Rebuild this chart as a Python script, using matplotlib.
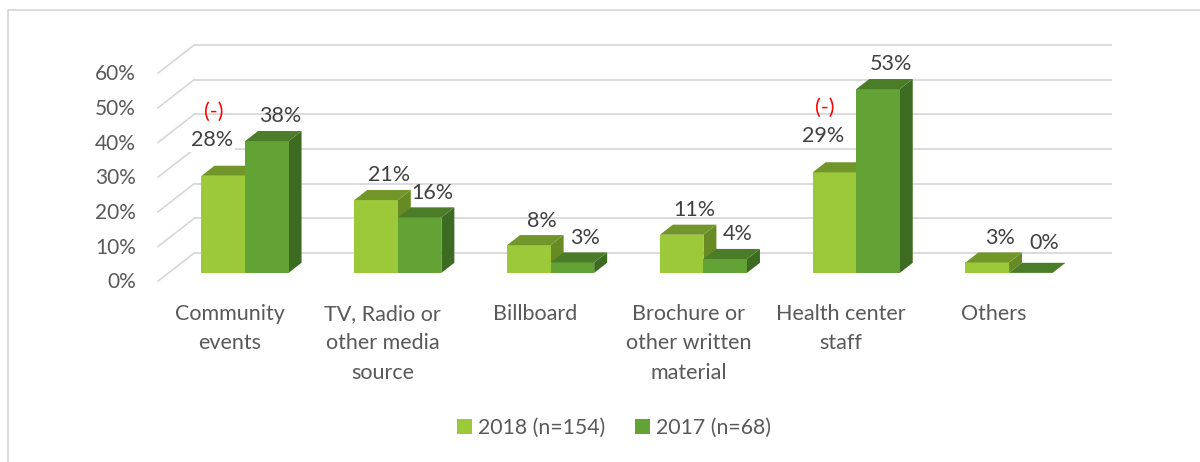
import matplotlib
matplotlib.use("Agg")
import matplotlib.pyplot as plt
from matplotlib.patches import Polygon, Rectangle

plt.rcParams["font.family"] = ["Lato", "DejaVu Sans"]

# data
categories = ["Community\nevents", "TV, Radio or\nother media\nsource", "Billboard",
              "Brochure or\nother written\nmaterial", "Health center\nstaff", "Others"]
series_names = ["2018 (n=154)", "2017 (n=68)"]
vals_2018 = [28, 21, 8, 11, 29, 3]
vals_2017 = [38, 16, 3, 4, 53, 0]
yticks = [0, 10, 20, 30, 40, 50, 60]
flagged = [0, 4]  # 2018 labels marked "(-)"

# colours: front, top, side
col_2018 = ("#9BC93A", "#73962A", "#678A24")
col_2017 = ("#63A235", "#4B7D28", "#3E6B22")
grid_col = "#D9D9D9"
txt_col = "#595959"

# pseudo 3d geometry (data units)
DX = 36 / 152.8      # depth shift in x (categories)
DY = 28 / 3.467      # depth shift in y (percent)
D0, D1 = 0.29, 0.65  # bar depth range
W = 0.285            # bar width


def P(x, y, d):
    return (x + d * DX, y + d * DY)


fig = plt.figure(figsize=(12, 4.62), dpi=100)
ax = fig.add_axes([0, 0, 1, 1])
ax.set_xlim(-234.6 / 152.8, (1200 - 234.6) / 152.8)
ax.set_ylim(-(462 - 281) / 3.467, 281 / 3.467)
ax.axis("off")

# outer frame
ax.add_patch(Rectangle((8 / 1200, -0.1), 1.2, 1.1 - 10 / 462, transform=ax.transAxes,
                       fill=False, edgecolor=grid_col, lw=1.3, clip_on=False))

# walls
x_left, x_right = -0.5, len(categories) - 0.5
for v in yticks:
    ax.plot(*zip(P(x_left, v, 1), P(x_right, v, 1)), color=grid_col, lw=1.3, zorder=1)
    ax.plot(*zip(P(x_left, v, 0), P(x_left, v, 1)), color=grid_col, lw=1.3, zorder=1)
    ax.text(-0.645, v - 0.4, f"{v}%", ha="right", va="center", fontsize=15, color=txt_col)


def bar3d(xl, h, cols):
    xr = xl + W
    front = [P(xl, 0, D0), P(xr, 0, D0), P(xr, h, D0), P(xl, h, D0)]
    top = [P(xl, h, D0), P(xr, h, D0), P(xr, h, D1), P(xl, h, D1)]
    side = [P(xr, 0, D0), P(xr, 0, D1), P(xr, h, D1), P(xr, h, D0)]
    for poly, c in ((side, cols[2]), (front, cols[0]), (top, cols[1])):
        ax.add_patch(Polygon(poly, closed=True, facecolor=c, edgecolor="none", zorder=2))
    return P(xl + W / 2, h, D1)


for i, cat in enumerate(categories):
    cx, cy = bar3d(i - W, vals_2018[i], col_2018)
    if i in flagged:
        lx, ly = cx - 0.16, cy + 7.5
        ax.text(lx, ly, f"{vals_2018[i]}%", ha="center", va="center", fontsize=15.5,
                color="#404040", zorder=3,
                bbox=dict(facecolor="white", edgecolor="none", pad=1.5))
        ax.text(lx + 0.01, ly + 8.1, "(-)", ha="center", va="center", fontsize=15.5,
                color="#FF0000", zorder=3)
    else:
        ax.text(cx, cy + 4.2, f"{vals_2018[i]}%", ha="center", va="center",
                fontsize=15.5, color="#404040", zorder=3)
    cx, cy = bar3d(i, vals_2017[i], col_2017)
    ax.text(cx, cy + 4.2 + (1.5 if vals_2017[i] == 0 else 0), f"{vals_2017[i]}%",
            ha="center", va="center", fontsize=15.5, color="#404040", zorder=3)
    ax.text(i - 0.03, -6.6, cat, ha="center", va="top", fontsize=15.5, color=txt_col,
            linespacing=1.6)

# legend
handles = [Rectangle((0, 0), 1, 1, facecolor=col_2018[0]),
           Rectangle((0, 0), 1, 1, facecolor=col_2017[0])]
leg = fig.legend(handles, series_names, loc="center", bbox_to_anchor=(614 / 1200, 1 - 428 / 462),
                 ncol=2, frameon=False, fontsize=15.3, handlelength=0.7, handleheight=0.7,
                 handletextpad=0.3, columnspacing=1.4, labelcolor=txt_col)

fig.savefig("out.png", dpi=100)
